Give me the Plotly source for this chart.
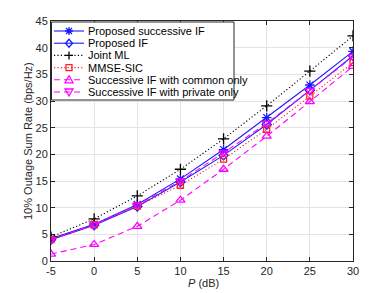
import plotly.graph_objects as go

P_dB = [-5, 0, 5, 10, 15, 20, 25, 30]
x_ticktext = ["-5", "0", "5", "10", "15", "20", "25", "30"]
y_tickvals = [0, 5, 10, 15, 20, 25, 30, 35, 40, 45]

proposed_successive_if = [4.2, 6.9, 10.6, 15.4, 20.9, 26.9, 33.0, 39.3]
proposed_if = [4.0, 6.7, 10.2, 14.8, 19.8, 25.6, 32.0, 38.5]
joint_ml = [4.5, 7.9, 12.2, 17.2, 22.9, 29.1, 35.6, 42.2]
mmse_sic = [4.0, 6.8, 10.3, 14.2, 19.1, 24.7, 30.9, 37.2]
common_only = [1.3, 3.1, 6.5, 11.4, 17.2, 23.4, 29.9, 36.5]
private_only = [4.0, 6.8, 10.5, 15.0, 20.3, 25.8, 32.0, 38.3]

BLUE = "#1a1aff"
MAG = "#ff00ff"
RED = "#ff2020"
DOT = "1.2px,2.2px"
DASH = "6px,4px"

series = [
    ("Proposed successive IF", proposed_successive_if, BLUE, "solid", "asterisk-open", 8),
    ("Proposed IF", proposed_if, BLUE, "solid", "diamond-open", 7),
    ("Joint ML", joint_ml, "black", DOT, "cross-thin-open", 8),
    ("MMSE-SIC", mmse_sic, RED, DOT, "square-open", 6),
    ("Successive IF with common only", common_only, MAG, DASH, "triangle-up-open", 8),
    ("Successive IF with private only", private_only, MAG, DASH, "triangle-down-open", 8),
]

# legend glyph paths in pixels (relative to anchor)
glyph_paths = {
    "asterisk-open": "M-4,0 L4,0 M0,-4 L0,4 M-3,-3 L3,3 M-3,3 L3,-3",
    "diamond-open": "M0,-4 L3.5,0 L0,4 L-3.5,0 Z",
    "cross-thin-open": "M-4,0 L4,0 M0,-4 L0,4",
    "square-open": "M-3,-3 L3,-3 L3,3 L-3,3 Z",
    "triangle-up-open": "M-4,-3 L4,-3 L0,4 Z",
    "triangle-down-open": "M-4,3 L4,3 L0,-4 Z",
}

fig = go.Figure()
for name, ys, color, dash, sym, size in series:
    fig.add_trace(go.Scatter(
        x=P_dB, y=ys, name=name, mode="lines+markers",
        line=dict(color=color, dash=dash, width=1.1),
        marker=dict(symbol=sym, size=size, color=color,
                    line=dict(color=color, width=1.3)),
        showlegend=False,
    ))

# page body has an 8px margin: lay out in window pixels, then offset
OFF = 8
FIG_W, FIG_H = 390 - OFF, 293 - OFF
L, R, T, B = 51, 353, 21, 261      # plot area in window pixels
W, H = R - L, B - T
px = lambda v: (v - L) / W
py = lambda v: (B - v) / H

shapes = [dict(type="rect", xref="paper", yref="paper",
               x0=px(51.5), x1=px(234), y0=py(22), y1=py(100),
               fillcolor="white", line=dict(color="#262626", width=1), layer="above")]
annotations = []
for i, (name, ys, color, dash, sym, size) in enumerate(series):
    yc = 31 + 12.2 * i
    shapes.append(dict(type="line", xref="paper", yref="paper",
                       x0=px(54), x1=px(84), y0=py(yc), y1=py(yc),
                       line=dict(color=color, dash=dash, width=1.1), layer="above"))
    shapes.append(dict(type="path", xref="paper", yref="paper",
                       xsizemode="pixel", ysizemode="pixel",
                       xanchor=px(69), yanchor=py(yc),
                       path=glyph_paths[sym],
                       line=dict(color=color, width=1.3), layer="above"))
    annotations.append(dict(text=name, xref="paper", yref="paper",
                            x=px(86), y=py(yc), xanchor="left", yanchor="middle",
                            showarrow=False,
                            font=dict(family="Liberation Sans, Arial", size=11, color="black")))

# axis titles
annotations.append(dict(text="<i>P</i> (dB)", xref="paper", yref="paper",
                        x=px(203), y=py(283), xanchor="center", yanchor="middle",
                        showarrow=False,
                        font=dict(family="Liberation Sans, Arial", size=11, color="#262626")))
annotations.append(dict(text="10% Outage Sum Rate (bps/Hz)", xref="paper", yref="paper",
                        x=px(28), y=py(141), xanchor="center", yanchor="middle",
                        textangle=-90, showarrow=False,
                        font=dict(family="Liberation Sans, Arial", size=11, color="#262626")))

axis_common = dict(
    showgrid=True, gridcolor="#e3e3e3", gridwidth=1,
    showline=True, linecolor="#262626", linewidth=1, mirror="allticks",
    ticks="inside", ticklen=4, tickcolor="#262626",
    tickfont=dict(family="Liberation Sans, Arial", size=11, color="#262626"),
    zeroline=False, automargin=False,
)

fig.update_layout(
    width=FIG_W, height=FIG_H,
    margin=dict(l=L - OFF, r=390 - R, t=T - OFF, b=293 - B),
    paper_bgcolor="white", plot_bgcolor="white",
    font=dict(family="Liberation Sans, Arial", size=11, color="#262626"),
    xaxis=dict(range=[-5, 30], tickmode="array", tickvals=P_dB, ticktext=x_ticktext,
               **axis_common),
    yaxis=dict(range=[0, 45], tickmode="array", tickvals=y_tickvals,
               **axis_common),
    shapes=shapes,
    annotations=annotations,
    showlegend=False,
)

fig.write_html("out.html")
